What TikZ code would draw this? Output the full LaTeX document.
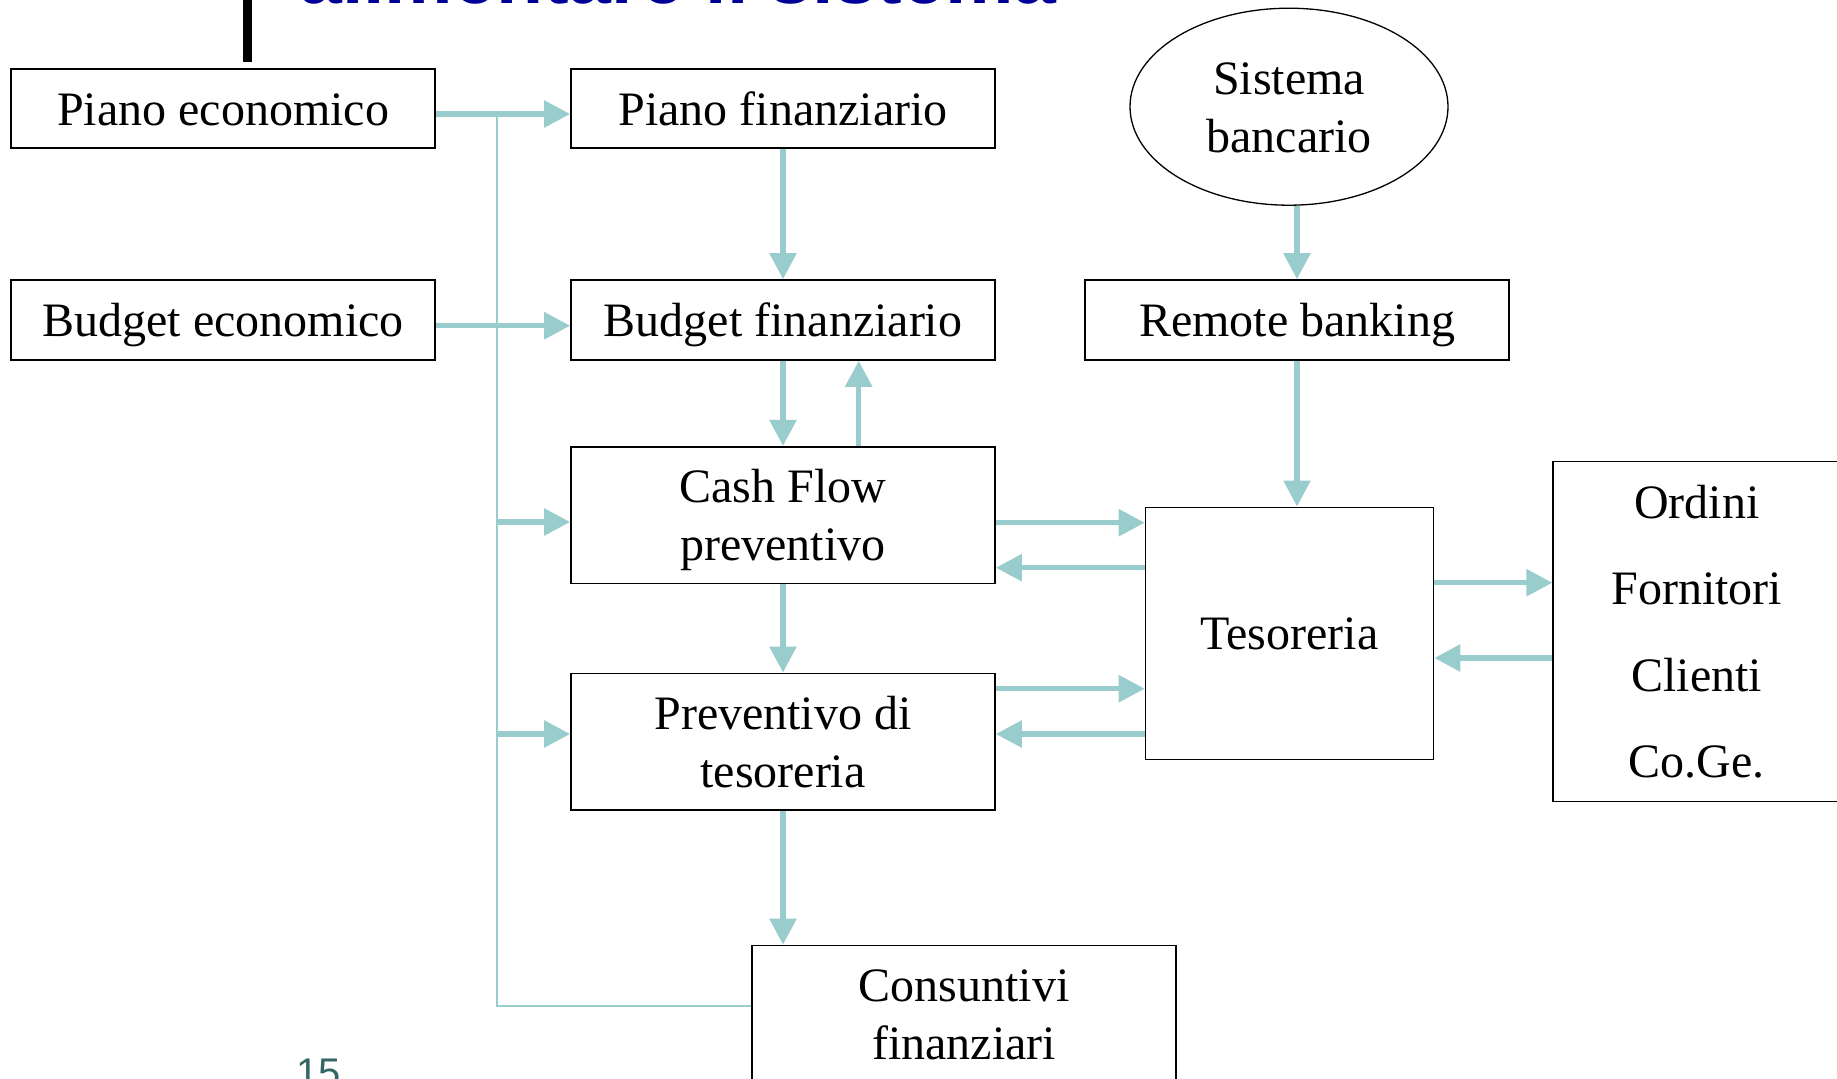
\documentclass[tikz,border=0pt]{standalone}
\usepackage{fontspec}
\setmainfont{Liberation Serif}
\newfontfamily\titlefont{Liberation Sans}
\usetikzlibrary{arrows.meta,shapes.geometric,calc}
\definecolor{teal1}{RGB}{153,204,204}
\definecolor{titleblue}{RGB}{0,0,153}
\definecolor{pagenum}{RGB}{51,102,102}
\newcommand{\bxstrut}{\rule[-12pt]{0pt}{57pt}}
\begin{document}
\begin{tikzpicture}[x=1pt,y=-1pt,
  box/.style={draw=black, line width=1.6pt, inner sep=0pt, align=center,
    font=\fontsize{48}{56.6}\selectfont},
  arr/.style={draw=teal1, line width=5.5pt, -{Triangle[width=26pt,length=26pt]}},
  busline/.style={draw=teal1, line width=2pt}]
\useasboundingbox (0,0) rectangle (1837,1079);
\clip (0,0) rectangle (1837,1079);
\fill[white] (0,0) rectangle (1837,1079);

% title (cut off at top) and bar
\node[anchor=base west, inner sep=0pt, text=titleblue,
  font=\titlefont\bfseries\fontsize{77}{80}\selectfont] (title) at (299,3.5) {alimentare il sistema};
\fill[black] (243,0) rectangle (252,62);

% boxes
\node[box, minimum width=424pt, minimum height=79pt] (pe) at (223,108.5) {\bxstrut Piano economico};
\node[box, minimum width=424pt, minimum height=80pt] (be) at (223,320) {\bxstrut Budget economico};
\node[box, minimum width=424pt, minimum height=79pt] (pf) at (783,108.5) {\bxstrut Piano finanziario};
\node[box, minimum width=424pt, minimum height=80pt] (bf) at (783,320) {\bxstrut Budget finanziario};
\node[box, minimum width=424pt, minimum height=136.6pt] (cf) at (783,515) {\bxstrut Cash Flow\\\bxstrut preventivo};
\node[box, minimum width=424pt, minimum height=136.7pt] (pt) at (783,741.7) {\bxstrut Preventivo di\\\bxstrut tesoreria};
\node[box, minimum width=424pt, minimum height=136.6pt] (cons) at (964,1013.8) {\bxstrut Consuntivi\\\bxstrut finanziari};
\node[box, ellipse, line width=1.3pt, minimum width=318pt, minimum height=197pt] (sb) at (1289,106.7) {\bxstrut Sistema\\\bxstrut bancario};
\node[box, minimum width=424pt, minimum height=80pt] (rb) at (1297,320) {\bxstrut Remote banking};
\node[box, minimum width=288pt, minimum height=252pt] (tes) at (1289.5,633.3) {\bxstrut Tesoreria};
\node[box, minimum width=287pt, minimum height=340pt, font=\fontsize{48}{86.3}\selectfont] (ord) at (1696.7,631.5)
  {\bxstrut Ordini\\\bxstrut Fornitori\\\bxstrut Clienti\\\bxstrut Co.Ge.};

% page number
\node[anchor=base west, inner sep=0pt, text=pagenum,
  font=\titlefont\fontsize{40}{44}\selectfont] (pnum) at (296.5,1086.6) {15};

% thin bus line
\coordinate (bus) at (497,114);
\draw[busline] (bus) |- ([yshift=7.8pt]cons.west);

% left arrows
\draw[arr] ([yshift=-5.5pt]pe.east) -- ([yshift=-5.5pt]pf.west);
\draw[arr] ([yshift=-5.7pt]be.east) -- ([yshift=-5.7pt]bf.west);
\coordinate (cfin) at ([yshift=-7pt]cf.west);
\draw[arr] (bus |- cfin) -- (cfin);
\coordinate (ptin) at ([yshift=7.7pt]pt.west);
\draw[arr] (bus |- ptin) -- (ptin);

% vertical chain
\draw[arr] (pf.south) -- (bf.north);
\draw[arr] (bf.south) -- (cf.north);
\draw[arr] ([xshift=75.7pt]cf.north) -- ([xshift=75.7pt]bf.south);
\draw[arr] (cf.south) -- (pt.north);
\draw[arr] (pt.south) -- (pt.south |- cons.north);

% to / from tesoreria
\coordinate (c1) at ([yshift=-7.7pt]cf.east);
\coordinate (c2) at ([yshift=-52.7pt]cf.east);
\coordinate (c3) at ([yshift=53pt]pt.east);
\coordinate (c4) at ([yshift=7.7pt]pt.east);
\draw[arr] (c1) -- (c1 -| tes.west);
\draw[arr] (c2 -| tes.west) -- (c2);
\draw[arr] (c3) -- (c3 -| tes.west);
\draw[arr] (c4 -| tes.west) -- (c4);

% banking
\draw[arr] (rb.north |- sb.south) -- (rb.north);
\draw[arr] (rb.south) -- (rb.south |- tes.north);

% tesoreria <-> ordini
\coordinate (c5) at ([yshift=50.6pt]tes.east);
\coordinate (c6) at ([yshift=-24.7pt]tes.east);
\draw[arr] (c5) -- (c5 -| ord.west);
\draw[arr] (c6 -| ord.west) -- (c6);
\end{tikzpicture}
\end{document}
